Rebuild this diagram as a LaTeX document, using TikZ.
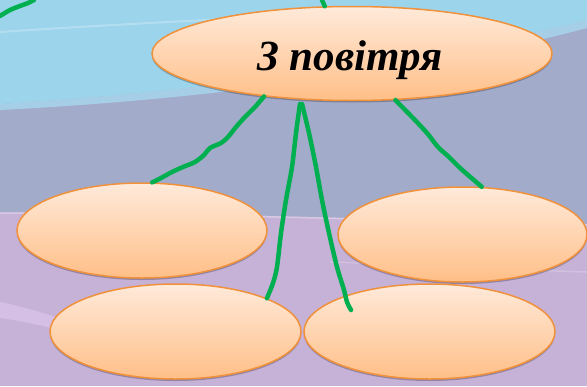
\documentclass[tikz,border=0pt]{standalone}
\usepackage{fontspec}
\setmainfont{Liberation Serif}
\usetikzlibrary{shadows,shapes.geometric}
\definecolor{skyb}{HTML}{9CD4EC}
\definecolor{skyl}{HTML}{A8DEF4}
\definecolor{greyb}{HTML}{A3ABCA}
\definecolor{lilac}{HTML}{C6B1D7}
\definecolor{lilacl}{HTML}{DCC6EC}
\definecolor{ovtop}{HTML}{FFEADA}
\definecolor{ovbot}{HTML}{FFBF88}
\definecolor{ovline}{HTML}{F0913C}
\definecolor{vinec}{HTML}{00B050}
\tikzset{
  oval/.style={ellipse, draw=ovline, line width=1.5pt, top color=ovtop, bottom color=ovbot,
    inner sep=0pt, minimum height=95pt,
    drop shadow={shadow xshift=0pt, shadow yshift=-2pt, opacity=0.25, fill=black}},
  vine/.style={draw=vinec, line width=4.5pt, line cap=round, line join=round},
  title/.style={font=\bfseries\itshape\fontsize{43}{50}\selectfont, anchor=base, inner sep=0pt}
}
\begin{document}
\begin{tikzpicture}[x=1pt,y=-1pt]
\useasboundingbox (0,0) rectangle (587,386);
% background
\fill[lilac] (0,0) rectangle (587,386);
\fill[greyb] (0,0) -- (587,0) -- (587,224) .. controls (400,220) and (200,212) .. (0,212) -- cycle;
\fill[skyb] (0,0) -- (587,0) -- (587,20) .. controls (430,60) and (200,92) .. (0,104) -- cycle;
\fill[skyl, opacity=0.7] (0,104) .. controls (200,92) and (430,60) .. (587,20) -- (587,28) .. controls (430,70) and (200,100) .. (0,110) -- cycle;
\draw[white, opacity=0.25, line width=2pt] (0,32) .. controls (150,22) and (300,15) .. (420,12);
\draw[white, opacity=0.3, line width=1.5pt] (0,213) .. controls (200,213) and (400,221) .. (587,225);
\draw[white, opacity=0.2, line width=1.5pt] (330,262) .. controls (450,266) and (520,270) .. (587,272);
\fill[lilacl, opacity=0.7] (0,302) .. controls (30,308) and (60,318) .. (100,332) -- (100,340) .. controls (60,330) and (30,322) .. (0,318) -- cycle;
% ovals
\node[oval, minimum width=400pt, minimum height=94pt] (top) at (352,53.5) {};
\node[oval, minimum width=250pt] (l1) at (142,230.5) {};
\node[oval, minimum width=249pt] (r1) at (462.5,234.5) {};
\node[oval, minimum width=251pt] (b1) at (175.5,331.5) {};
\node[oval, minimum width=251pt] (b2) at (429.5,331.5) {};
\node[title] (lbl) at (350,70) {З повітря};
% connector end points
\coordinate (edgeA) at (0,16);
\coordinate (edgeB) at (34,0);
\coordinate (topEdge) at (322,0);
\coordinate (mL) at (300,104);
\coordinate (mR) at (302,104);
\coordinate (b2in) at (351,310);
% connectors
\draw[vine] plot[smooth, tension=0.6] coordinates {(edgeA) (10,10) (20,6) (28,3) (edgeB)};
\draw[vine] (top.120) -- (topEdge);
\draw[vine] plot[smooth, tension=0.5] coordinates {(top.206) (255,107) (245,117) (236,127) (228,137) (221,143) (210,148) (204,155) (195,162) (183,167) (172,172) (161,178) (l1.78)};
\draw[vine] plot[smooth, tension=0.5] coordinates {(top.-47) (412,117) (427,133) (438,147) (449,157) (459,167) (468,175) (r1.68)};
\draw[vine] plot[smooth, tension=0.5] coordinates {(mL) (296,133) (292,167) (286,200) (281,233) (277,267) (273,283) (b1.20)};
\draw[vine] plot[smooth, tension=0.5] coordinates {(mR) (309,133) (316,167) (322,200) (329,233) (337,267) (344,290) (347,302) (b2in)};
\end{tikzpicture}
\end{document}
